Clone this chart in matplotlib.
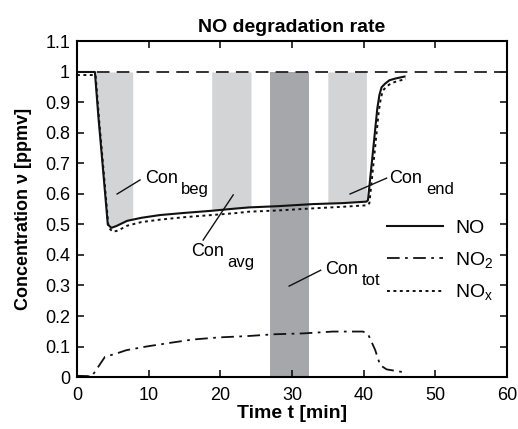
import matplotlib
matplotlib.use('Agg')
import matplotlib.pyplot as plt
import numpy as np

plt.rcParams['font.family'] = ['Liberation Sans', 'DejaVu Sans']
plt.rcParams['mathtext.fontset'] = 'custom'
plt.rcParams['mathtext.rm'] = 'Liberation Sans'
plt.rcParams['mathtext.it'] = 'Liberation Sans'

# NO
t_no = [0, 2.5, 3.0, 3.6, 4.3, 4.8, 5.5, 7, 9, 11.6, 15, 18.8, 22, 24, 28, 33, 37, 40.4,
        40.6, 41.3, 41.9, 42.2, 42.5, 43.0, 43.6, 44.5, 45.7]
no = [1.0, 1.0, 0.85, 0.69, 0.50, 0.489, 0.495, 0.512, 0.522, 0.531, 0.538, 0.545, 0.552,
      0.556, 0.560, 0.567, 0.570, 0.575, 0.58, 0.74, 0.88, 0.925, 0.95, 0.962, 0.973,
      0.979, 0.985]

# NOx
t_nox = [0, 2.6, 3.1, 3.7, 4.4, 5.0, 5.7, 7, 9, 11.6, 15, 18.8, 22, 24, 28, 33, 37, 40.5,
         40.8, 41.5, 42.1, 42.4, 42.7, 43.2, 43.8, 44.7, 45.9]
nox = [0.99, 0.99, 0.84, 0.68, 0.49, 0.476, 0.48, 0.496, 0.508, 0.516, 0.524, 0.531,
       0.537, 0.542, 0.546, 0.553, 0.558, 0.563, 0.57, 0.73, 0.87, 0.915, 0.94, 0.952,
       0.963, 0.970, 0.977]

# NO2
t_no2 = [0, 1.5, 2.0, 2.5, 3.9, 5.5, 6.9, 9.7, 13, 16.2, 19.9, 23.7, 27.4, 31.6, 35.7,
         39.9, 40.6, 41.6, 42.3, 43.2, 46]
no2 = [0.004, 0.003, 0.0, 0.017, 0.066, 0.077, 0.088, 0.100, 0.112, 0.123, 0.130, 0.134,
       0.140, 0.143, 0.149, 0.149, 0.141, 0.089, 0.039, 0.025, 0.014]

# averaging windows [min]
win_beg = (2.5, 7.8)
win_avg = (18.8, 24.3)
win_tot = (26.9, 32.4)
win_end = (35.0, 40.4)

fig = plt.figure(figsize=(5.18, 4.29), dpi=100)
ax = fig.add_axes([0.1486, 0.1212, 0.8302, 0.7821])

light = '#d3d4d6'
dark = '#a6a7aa'
tt = np.linspace(0, 46, 2000)
no_i = np.interp(tt, t_no, no)
for w in (win_beg, win_avg, win_end):
    m = (tt >= w[0]) & (tt <= w[1])
    ax.fill_between(tt[m], no_i[m], 1.0, color=light, lw=0)
ax.axvspan(win_tot[0], win_tot[1], ymin=0, ymax=1.0 / 1.1, color=dark, lw=0)

ax.axhline(1.0, color='#222222', lw=1.3, ls=(0, (7, 4)))
ax.plot(t_no, no, color='#111111', lw=1.5, label='NO')
ax.plot(t_no2, no2, color='#111111', lw=1.3, ls=(0, (7, 3, 1.5, 3)), label='NO$_2$')
ax.plot(t_nox, nox, color='#111111', lw=1.4, ls=(0, (1.5, 1.8)), label='NO$_x$')

# annotations
fs = 13
notes = [
    ((5.6, 0.60), (8.8, 0.646), (9.5, 0.652), 'beg'),
    ((21.8, 0.597), (17.6, 0.449), (15.9, 0.412), 'avg'),
    ((29.6, 0.298), (34.0, 0.35), (34.6, 0.354), 'tot'),
    ((38.1, 0.60), (43.2, 0.652), (43.6, 0.652), 'end'),
]
for p0, p1, ptxt, sub in notes:
    ax.plot([p0[0], p1[0]], [p0[1], p1[1]], color='#111111', lw=1.0)
    tx = ax.text(ptxt[0], ptxt[1], 'Con', fontsize=fs, va='center', ha='left')
    ax.annotate(sub, xy=(1, 0), xycoords=tx, xytext=(2.5, -2), textcoords='offset points',
                fontsize=fs - 1, va='center', ha='left')

ax.set_xlim(0, 60)
ax.set_ylim(0, 1.1)
ax.set_xticks(np.arange(0, 61, 10))
ax.set_yticks(np.arange(0, 1.11, 0.1))
ax.set_yticklabels(['%g' % round(v, 1) for v in np.arange(0, 1.11, 0.1)])
ax.tick_params(direction='in', length=5, width=1.1, labelsize=13, top=True, right=True)
ax.tick_params(axis='x', pad=7)
ax.tick_params(axis='y', pad=5)
for s in ax.spines.values():
    s.set_linewidth(1.5)

ax.set_title('NO degradation rate', fontsize=14, fontweight='bold', pad=7)
ax.set_xlabel('Time t [min]', fontsize=14, fontweight='bold', labelpad=1)
ax.set_ylabel('Concentration \u03bd [ppmv]', fontsize=13, fontweight='bold', labelpad=9)

ax.legend(loc='upper right', bbox_to_anchor=(1.0, 0.51), frameon=False, fontsize=14,
          handlelength=2.9, handletextpad=0.6, labelspacing=0.65, borderaxespad=0.3)

fig.savefig('out.png', dpi=100)
